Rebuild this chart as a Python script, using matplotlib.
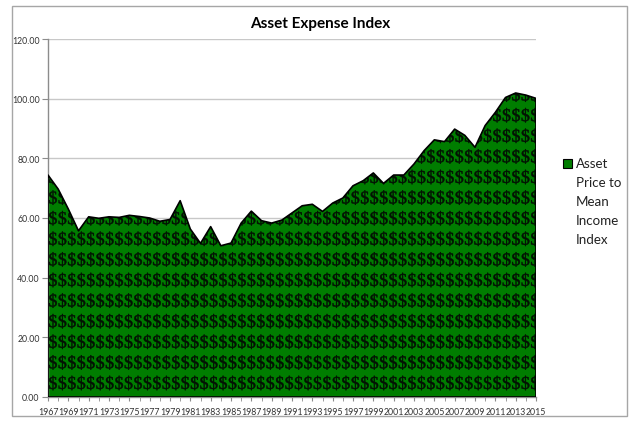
import matplotlib
matplotlib.use('Agg')
import matplotlib.pyplot as plt
from matplotlib.patches import Rectangle, PathPatch
from matplotlib.ticker import FormatStrFormatter
from matplotlib.textpath import TextPath
from matplotlib.font_manager import FontProperties
from matplotlib.path import Path
from matplotlib.transforms import Affine2D

years = list(range(1967, 2016))
values = [74.4, 69.7, 63.0, 55.7, 60.4, 59.9, 60.4, 60.2, 60.9, 60.5,
          60.0, 58.9, 59.5, 65.8, 56.3, 51.5, 57.1, 50.7, 51.6, 58.3,
          62.3, 59.1, 58.3, 59.3, 61.7, 64.1, 64.6, 62.2, 65.0, 66.7,
          70.8, 72.5, 75.1, 71.6, 74.4, 74.4, 78.1, 82.6, 86.2, 85.6,
          89.8, 87.7, 83.7, 91.0, 95.4, 100.4, 101.9, 101.2, 100.1]
title = "Asset Expense Index"
series_name = "Asset\nPrice to\nMean\nIncome\nIndex"
yticks = [0, 20, 40, 60, 80, 100, 120]

W, H = 640, 427
fig = plt.figure(figsize=(6.4, 4.27), dpi=100)
fig.patch.set_facecolor('white')

# outer chart frame
fig.patches.append(Rectangle((12 / W, 1 - 417 / H), (627 - 12) / W, (417 - 7) / H,
                             transform=fig.transFigure, fill=False,
                             edgecolor='#a6a6a6', lw=1.0))

ax = fig.add_axes([48 / W, (H - 398) / H, 488 / W, 358 / H])
green = '#007d00'
poly = ax.fill_between(years, values, 0, facecolor=green, edgecolor='none', zorder=2)
ax.fill_between(years, values, 0, facecolor='none', edgecolor='black', lw=1.2, zorder=4)

# "$" pattern texture (glyph paths) clipped to the filled area
glyph_size = 18.0
glyph = TextPath((0, 0), '$', size=glyph_size,
                 prop=FontProperties(family='Liberation Serif'))
ext = glyph.get_extents()
cx = (ext.x0 + ext.x1) / 2
cy = (ext.y0 + ext.y1) / 2
axw, axh = 488.0, 358.0
pieces = []
for j in range(18):
    yy = 14 + j * 20.6
    if yy > axh + 15:
        break
    for i in range(53):
        xx = 5 + i * 9.45
        if xx > axw + 10:
            break
        pieces.append(glyph.transformed(Affine2D().translate(xx - cx, yy - cy)))
texture = Path.make_compound_path(*pieces)
tex_patch = PathPatch(texture, facecolor='#031003', edgecolor='#031003', lw=0.35,
                      transform=Affine2D().scale(1 / axw, 1 / axh) + ax.transAxes,
                      zorder=3)
ax.add_patch(tex_patch)
tex_patch.set_clip_path(poly.get_paths()[0], poly.get_transform())

ax.set_xlim(1967, 2015)
ax.set_ylim(0, 120)
ax.set_yticks(yticks)
ax.yaxis.set_major_formatter(FormatStrFormatter('%.2f'))
ax.set_xticks(years[::2])
ax.set_xticklabels([str(y) for y in years[::2]])
ax.set_xticks(years, minor=True)
ax.grid(axis='y', color='#c8c8c8', lw=1.0, zorder=0)
ax.set_axisbelow(True)
for s in ['top', 'right']:
    ax.spines[s].set_visible(False)
for s in ['left', 'bottom']:
    ax.spines[s].set_color('#8c8c8c')
    ax.spines[s].set_linewidth(1.0)
ax.tick_params(axis='y', direction='out', length=4, color='#8c8c8c',
               labelsize=6.3, labelcolor='#333333', pad=2)
ax.tick_params(axis='x', which='both', direction='out', length=3, color='#8c8c8c',
               labelsize=6.3, labelcolor='#333333', pad=4)
for lab in ax.get_xticklabels() + ax.get_yticklabels():
    lab.set_family('Lato')

fig.text(320 / W, 1 - 24 / H, title, ha='center', va='center',
         fontsize=11, fontweight='bold', family='Lato', color='black')

# legend
fig.patches.append(Rectangle((563 / W, 1 - 168.5 / H), 8.5 / W, 8.5 / H,
                             transform=fig.transFigure, facecolor=green,
                             edgecolor='black', lw=0.8))
fig.text(575.5 / W, 1 - 158 / H, series_name, ha='left', va='top',
         fontsize=9.6, family='Lato', color='#222222', linespacing=1.7)

fig.savefig('out.png', dpi=100)
